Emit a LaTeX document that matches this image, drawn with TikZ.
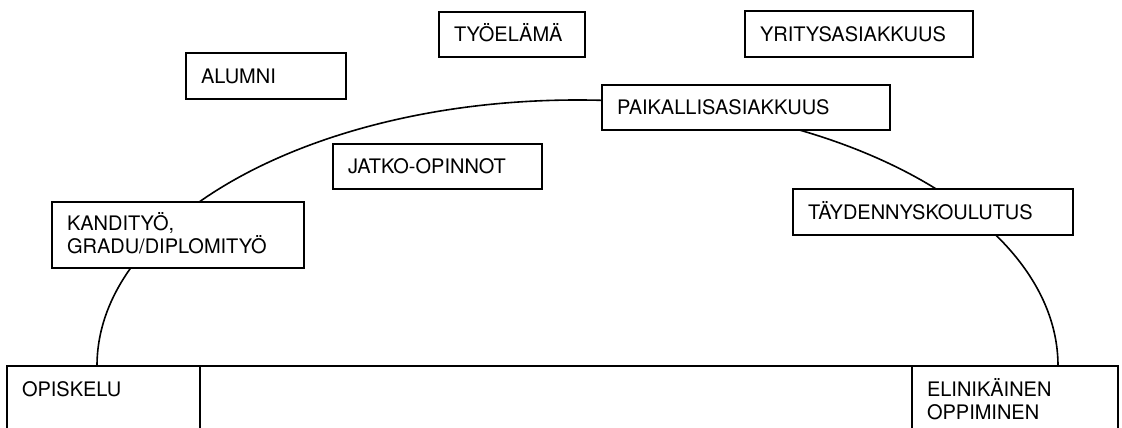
\documentclass[tikz,border=0pt]{standalone}
\usepackage{fontspec}
\setmainfont{TeX Gyre Heros}

\begin{document}
\begin{tikzpicture}[x=1pt, y=-1pt, every node/.style={font=\fontsize{20}{23}\selectfont},
  tag/.style={draw, fill=white, line width=1.6pt, outer sep=0pt, anchor=north west, inner xsep=15pt, inner ysep=0pt, align=left, text height=14.4pt, text depth=0pt},
  pohja/.style={draw, line width=1.6pt, outer sep=0pt, anchor=north west, inner xsep=15pt, inner ysep=16pt, align=left, text height=14.4pt, text depth=40pt},
  kaari/.style={line width=1.6pt},
]
\useasboundingbox (0,0) rectangle (1122,428);

% bottom bar
\node[pohja, text width=163pt] (opiskelu) at (7,366) {OPISKELU};
\node[pohja, text width=682pt] (keskiosa) at (200,366) {};
\node[pohja, text width=176pt] (elinikainen) at (912,366) {ELINIKÄINEN\\OPPIMINEN};

% the arc over the bar
\draw[kaari] ([xshift=90pt]opiskelu.north west) arc[start angle=180, end angle=0, x radius=480.5pt, y radius=266pt];

% boxes on and above the arc
\node[tag, text width=130pt, minimum height=46pt] (alumni) at (186,53) {ALUMNI};
\node[tag, text width=116pt, minimum height=45pt] (tyoelama) at (439,12) {TYÖELÄMÄ};
\node[tag, text width=198pt, minimum height=46pt] (yritys) at (745,11) {YRITYSASIAKKUUS};
\node[tag, text width=258pt, minimum height=45pt] (paikallis) at (602,85) {PAIKALLISASIAKKUUS};
\node[tag, text width=179pt, minimum height=45pt] (jatko) at (333,144) {JATKO-OPINNOT};
\node[tag, text width=250pt, minimum height=46pt] (taydennys) at (793,189) {TÄYDENNYSKOULUTUS};
\node[tag, text width=222pt, minimum height=66pt, text depth=23pt] (kandi) at (52,202) {KANDITYÖ,\\GRADU/DIPLOMITYÖ};

\end{tikzpicture}
\end{document}
